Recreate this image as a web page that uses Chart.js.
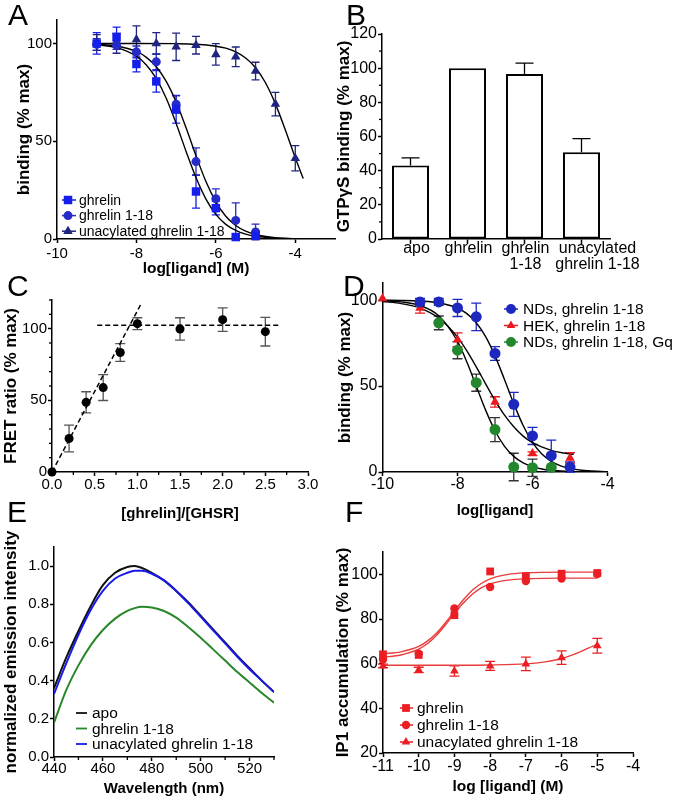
<!DOCTYPE html>
<html>
<head>
<meta charset="utf-8">
<script src="https://cdn.jsdelivr.net/npm/chart.js@4.4.1/dist/chart.umd.min.js"></script>
<style>
html, body { margin: 0; padding: 0; background: #fff; }
#wrap { position: relative; width: 677px; height: 806px; overflow: hidden; }
#wrap canvas { position: absolute; left: 0; top: 0; }
.lbl { position: absolute; font: 30px "Liberation Sans", Arial, sans-serif; line-height: 30px; color: #000; }
</style>
</head>
<body>
<div id="wrap">
  <canvas id="cA" width="677" height="806"></canvas>
  <canvas id="cB" width="677" height="806"></canvas>
  <canvas id="cC" width="677" height="806"></canvas>
  <canvas id="cD" width="677" height="806"></canvas>
  <canvas id="cE" width="677" height="806"></canvas>
  <canvas id="cF" width="677" height="806"></canvas>
  <div class="lbl" style="left:8px;top:0px">A</div>
  <div class="lbl" style="left:346px;top:0px">B</div>
  <div class="lbl" style="left:7px;top:271px">C</div>
  <div class="lbl" style="left:343px;top:271px">D</div>
  <div class="lbl" style="left:7px;top:497px">E</div>
  <div class="lbl" style="left:345px;top:497px">F</div>
</div>
<script>
// ---- A: competition binding ----
var aLogX = [-9, -8.5, -8, -7.5, -7, -6.5, -6, -5.5, -5];
var aGhrelin = [100, 103.4, 89.5, 80.6, 66.3, 24.3, 15.8, 1, 1.7];
var aGhrelinErr = [5.5, 5, 4, 5.5, 7, 8.5, 3.5, 0, 1];
var aG118 = [99.5, 99, 95.7, 90.6, 68.9, 39.6, 20.6, 9.5, 3.6];
var aG118Err = [3, 2, 3, 4, 4.5, 7, 5, 9, 4];
var aUnacX = [-9, -8.5, -8, -7.5, -7, -6.5, -6, -5.5, -5, -4.5, -4];
var aUnac = [100.5, 100, 102, 100, 98.3, 99.1, 94.4, 93.2, 85.9, 69, 41.3];
var aUnacErr = [4, 5, 7, 5.5, 7, 4.5, 5.5, 5, 4.5, 6, 6.5];
var aFitX = [-9, -8.5, -8, -7.75, -7.5, -7.25, -7, -6.75, -6.5, -6.25, -6, -5.75, -5.5, -5.25, -5, -4.5, -4];
var aGhrelinFit = [99.3, 97.9, 93.5, 89.0, 82.0, 72.0, 59.1, 44.8, 31.4, 20.4, 12.6, 7.5, 4.4, 2.5, 1.4, 0.5, 0.1];
var aG118Fit = [99.6, 98.7, 95.9, 92.9, 88.1, 80.6, 70.1, 56.9, 42.6, 29.4, 19.0, 11.6, 6.9, 4.0, 2.3, 0.7, 0.2];
var aUnacFitX = [-9, -8, -7, -6.5, -6, -5.75, -5.5, -5.25, -5, -4.75, -4.5, -4.25, -4, -3.8];
var aUnacFit = [100, 100, 99.9, 99.6, 98.6, 97.6, 95.7, 92.6, 87.6, 79.9, 69.1, 55.7, 41.5, 30.9];
var aTicksX = [-10, -8, -6, -4];
var aTicksY = [0, 50, 100];

// ---- B: GTPgS binding ----
var bLabels = [["apo"], ["ghrelin"], ["ghrelin", "1-18"], ["unacylated", "ghrelin 1-18"]];
var bValues = [43, 100, 96.6, 50.8];
var bErr = [4.5, 0, 6.3, 8];
var bTicksY = [0, 20, 40, 60, 80, 100, 120];
var bMinorY = [10, 30, 50, 70, 90, 110];

// ---- C: FRET titration ----
var cRatio = [0, 0.2, 0.4, 0.6, 0.8, 1.0, 1.5, 2.0, 2.5];
var cFret = [0, 23.4, 48.6, 58.9, 83.4, 103.5, 99.8, 106.3, 97.9];
var cFretErr = [0, 9.3, 7.4, 9, 6.2, 4.1, 7.8, 8.2, 10];
var cRiseX = [0, 1.05];
var cRiseY = [0, 118];
var cPlateauX = [0.53, 2.66];
var cPlateauY = [102.3, 102.3];
var cTicksX = [0, 0.5, 1, 1.5, 2, 2.5, 3];
var cMinorX = [0.25, 0.75, 1.25, 1.75, 2.25, 2.75];
var cTicksY = [0, 50, 100];
var cMinorY = [10, 20, 30, 40, 60, 70, 80, 90, 110, 120];

// ---- D: binding in NDs / HEK ----
var dNdX = [-9, -8.5, -8, -7.5, -7, -6.5, -6, -5.5, -5];
var dNd = [99, 99, 95.5, 90.3, 69, 39.4, 21, 9.5, 2.9];
var dNdErr = [2, 2, 5, 8, 4, 7, 5, 9, 3];
var dHekX = [-10, -9, -8, -7, -6, -5];
var dHek = [101, 95.5, 77, 40.8, 10.7, 8.2];
var dHekErr = [0, 3, 4, 3, 1, 3];
var dGqX = [-8.5, -8, -7.5, -7, -6.5, -6, -5.5];
var dGq = [86.8, 70.9, 52, 24.7, 2.9, 2.5, 2.7];
var dGqErr = [4, 5, 5, 7, 8, 5, 0];
var dFitX = [-10, -9.5, -9, -8.5, -8, -7.75, -7.5, -7.25, -7, -6.75, -6.5, -6.25, -6, -5.75, -5.5, -5.25, -5, -4.5, -4];
var dNdFit = [99.95, 99.85, 99.5, 98.5, 95.4, 92.2, 86.9, 78.8, 67.6, 54.0, 39.8, 27.1, 17.3, 10.5, 6.2, 3.6, 2.0, 0.7, 0.2];
var dGqFit = [99.7, 99.0, 96.9, 90.9, 76.0, 64.0, 50, 36.0, 24.0, 15.1, 9.1, 5.3, 3.1, 1.75, 1.0, 0.56, 0.3, 0.1, 0.03];
var dHekFitX = [-10, -9.5, -9, -8.5, -8, -7.75, -7.5, -7.25, -7, -6.75, -6.5, -6.25, -6, -5.5, -5, -4.9];
var dHekFit = [99.2, 98.0, 95.4, 89.6, 78.5, 70.5, 61.2, 51.3, 41.7, 33.2, 26.3, 20.9, 17.1, 12.6, 10.5, 10.3];
var dTicksX = [-10, -8, -6, -4];
var dTicksY = [0, 50, 100];

// ---- E: emission spectra ----
var eWave = [440, 445, 450, 455, 460, 465, 470, 473, 476, 480, 485, 490, 495, 500, 505, 510, 515, 520, 525, 530];
var eApo = [0.36, 0.52, 0.66, 0.79, 0.9, 0.965, 0.995, 1.0, 0.99, 0.965, 0.925, 0.87, 0.81, 0.74, 0.67, 0.6, 0.53, 0.465, 0.4, 0.34];
var eG118 = [0.18, 0.35, 0.48, 0.585, 0.665, 0.725, 0.765, 0.78, 0.787, 0.783, 0.765, 0.73, 0.68, 0.625, 0.565, 0.505, 0.445, 0.39, 0.335, 0.285];
var eUnac = [0.33, 0.49, 0.64, 0.77, 0.87, 0.935, 0.965, 0.975, 0.975, 0.96, 0.925, 0.87, 0.805, 0.735, 0.665, 0.595, 0.525, 0.46, 0.4, 0.34];
var eTicksX = [440, 460, 480, 500, 520];
var eMinorX = [450, 470, 490, 510, 530];
var eTicksY = [0, 0.2, 0.4, 0.6, 0.8, 1.0];

// ---- F: IP1 accumulation ----
var fX = [-11, -10, -9, -8, -7, -6, -5];
var fGhrelin = [64.2, 63.9, 81.7, 101.3, 99.1, 100.3, 100.6];
var fG118 = [61.9, 64.5, 84.7, 94.3, 97, 98.1, 100.1];
var fUnac = [59, 57.2, 56.7, 59, 59.9, 62.7, 68];
var fUnacErr = [0.8, 1.2, 2.3, 2, 3, 3, 3.3];
var fFitX = [-11, -10.5, -10, -9.75, -9.5, -9.25, -9, -8.75, -8.5, -8.25, -8, -7.5, -7, -6, -5];
var fGhrelinFit = [64.4, 65.3, 67.7, 70.2, 73.7, 78.3, 83.6, 88.6, 92.9, 95.9, 98.0, 100.0, 100.7, 101.0, 101.0];
var fG118Fit = [62.9, 63.9, 66.5, 69.0, 72.7, 77.4, 82.5, 87.2, 91.1, 93.9, 95.7, 97.4, 98.0, 98.3, 98.3];
var fUnacFitX = [-11, -10, -9, -8, -7, -6.5, -6, -5.75, -5.5, -5.25, -5];
var fUnacFit = [59.3, 59.3, 59.3, 59.4, 59.9, 60.7, 62.3, 63.6, 65.2, 67.0, 68.6];
var fTicksX = [-11, -10, -9, -8, -7, -6, -5, -4];
var fTicksY = [20, 40, 60, 80, 100];

var W = 677, H = 806;
var FONT = '"Liberation Sans", Arial, Helvetica, sans-serif';
Chart.defaults.font.family = FONT;
Chart.defaults.color = "#000";

function pts(xs, ys) {
    return xs.map(function (x, i) { return { x: x, y: ys[i] }; });
}

function axis(min, max, ticks, fmt, title, tickSize, titleSize, pad) {
    return {
        type: "linear", min: min, max: max,
        afterBuildTicks: function (s) { s.ticks = ticks.map(function (v) { return { value: v }; }); },
        ticks: { autoSkip: false, maxRotation: 0, minRotation: 0, padding: pad, color: "#000",
                 font: { size: tickSize, lineHeight: 1.05 }, callback: function (v) { return fmt(v); } },
        grid: { drawOnChartArea: false, drawTicks: true, tickLength: 4, tickColor: "#000", tickWidth: 1.5 },
        border: { display: true, color: "#000", width: 1.5 },
        title: { display: !!title, text: title || "", color: "#000",
                 font: { size: titleSize, weight: "bold" }, padding: { top: 0, bottom: 0 } }
    };
}

// place the plot area at fixed page coordinates
function frame(area, yTitleX, yTitleSize, xTitleY, xTitleSize, xs, ys) {
    var padL = yTitleX - yTitleSize * 0.6;
    var yW = area.l - padL;
    var xHt = xTitleY + xTitleSize * 0.6 - area.b;
    xs.afterFit = function (s) { s.height = xHt; };
    ys.afterFit = function (s) { s.width = yW; };
    return {
        responsive: false, animation: false, events: [],
        layout: { padding: { left: padL, top: area.t, right: W - area.r, bottom: H - area.b - xHt } },
        plugins: { legend: { display: false }, tooltip: { enabled: false } },
        scales: { x: xs, y: ys }
    };
}

function drawMarker(ctx, style, x, y, r) {
    ctx.beginPath();
    if (style === "rect") {
        var s = r * Math.SQRT1_2;
        ctx.rect(x - s, y - s, 2 * s, 2 * s);
    } else if (style === "triangle") {
        var a = 0;
        for (var k = 0; k < 3; k++) {
            var px = x + Math.sin(a) * r, py = y - Math.cos(a) * r;
            if (k === 0) ctx.moveTo(px, py); else ctx.lineTo(px, py);
            a += 2 * Math.PI / 3;
        }
        ctx.closePath();
    } else {
        ctx.arc(x, y, r, 0, 2 * Math.PI);
    }
    ctx.fill();
}

var errorBars = {
    id: "errorBars",
    beforeDatasetsDraw: function (chart) {
        var ctx = chart.ctx, ys = chart.scales.y;
        chart.data.datasets.forEach(function (ds, i) {
            if (!ds.errors) return;
            var meta = chart.getDatasetMeta(i);
            ctx.save();
            ctx.strokeStyle = ds.errorColor;
            ctx.lineWidth = 1.3;
            meta.data.forEach(function (el, j) {
                var e = ds.errors[j];
                if (!e) return;
                var raw = ds.data[j];
                var v = typeof raw === "number" ? raw : raw.y;
                var top = ys.getPixelForValue(v + e);
                var bot = ds.upOnly ? el.y : ys.getPixelForValue(v - e);
                var c = ds.capHalf;
                ctx.beginPath();
                ctx.moveTo(el.x, top); ctx.lineTo(el.x, bot);
                ctx.moveTo(el.x - c, top); ctx.lineTo(el.x + c, top);
                if (!ds.upOnly) { ctx.moveTo(el.x - c, bot); ctx.lineTo(el.x + c, bot); }
                ctx.stroke();
            });
            ctx.restore();
        });
    }
};

function minorTicks(xv, yv) {
    return {
        id: "minorTicks",
        afterDraw: function (chart) {
            var ctx = chart.ctx, a = chart.chartArea;
            ctx.save();
            ctx.strokeStyle = "#000";
            ctx.lineWidth = 1.3;
            xv.forEach(function (v) {
                var px = chart.scales.x.getPixelForValue(v);
                ctx.beginPath(); ctx.moveTo(px, a.bottom); ctx.lineTo(px, a.bottom + 3); ctx.stroke();
            });
            yv.forEach(function (v) {
                var py = chart.scales.y.getPixelForValue(v);
                ctx.beginPath(); ctx.moveTo(a.left, py); ctx.lineTo(a.left - 3, py); ctx.stroke();
            });
            ctx.restore();
        }
    };
}

// small legend drawn inside the plot
function key(def) {
    return {
        id: "key",
        afterDraw: function (chart) {
            var ctx = chart.ctx;
            ctx.save();
            ctx.font = def.size + "px " + FONT;
            ctx.textBaseline = "middle";
            def.items.forEach(function (it, i) {
                var y = def.y + i * def.dy;
                ctx.strokeStyle = it.color;
                ctx.lineWidth = def.lw;
                ctx.beginPath(); ctx.moveTo(def.x0, y); ctx.lineTo(def.x1, y); ctx.stroke();
                if (it.style) { ctx.fillStyle = it.color; drawMarker(ctx, it.style, def.mx, y, it.r); }
                ctx.fillStyle = "#000";
                ctx.fillText(it.text, def.tx, y + 1);
            });
            ctx.restore();
        }
    };
}

// category labels of B, nudged sideways like the original layout
function barLabels(labels, shift, y0, lineH, size) {
    return {
        id: "barLabels",
        afterDraw: function (chart) {
            var ctx = chart.ctx, sx = chart.scales.x;
            ctx.save();
            ctx.font = size + "px " + FONT;
            ctx.textAlign = "center";
            ctx.textBaseline = "middle";
            ctx.fillStyle = "#000";
            labels.forEach(function (lines, i) {
                var x = sx.getPixelForValue(i) + shift[i];
                lines.forEach(function (t, k) { ctx.fillText(t, x, y0 + k * lineH); });
            });
            ctx.restore();
        }
    };
}

function points(xs, ys, errs, color, style, r, errColor, cap) {
    return { data: pts(xs, ys), pointStyle: style, pointRadius: r, borderWidth: 0,
             backgroundColor: color, borderColor: color, errors: errs,
             errorColor: errColor || color, capHalf: cap || 4, clip: false };
}
function curve(xs, ys, color, width) {
    return { data: pts(xs, ys), showLine: true, pointRadius: 0, borderColor: color,
             borderWidth: width || 1.4, cubicInterpolationMode: "monotone", fill: false };
}
function fmtInt(v) { return String(v); }
function fmt1(v) { return v.toFixed(1); }

// ----- Panel A -----
var A_SQ = "rgb(22,30,235)", A_CI = "rgb(38,42,200)", A_TR = "rgb(30,36,128)";
new Chart(document.getElementById("cA"), {
    type: "scatter",
    data: { datasets: [
        points(aLogX, aGhrelin, aGhrelinErr, A_SQ, "rect", 6),
        points(aLogX, aG118, aG118Err, A_CI, "circle", 4.5),
        points(aUnacX, aUnac, aUnacErr, A_TR, "triangle", 5.5),
        curve(aFitX, aGhrelinFit, "#000"),
        curve(aFitX, aG118Fit, "#000"),
        curve(aUnacFitX, aUnacFit, "#000")
    ] },
    options: frame({ l: 57, t: 20, r: 335, b: 239 }, 24, 17, 269, 15.5,
        axis(-10, -3, aTicksX, fmtInt, "log[ligand] (M)", 15, 15.5, 3),
        axis(0, 112, aTicksY, fmtInt, "binding (% max)", 15, 17, 1)),
    plugins: [errorBars, key({ x0: 62, x1: 76, mx: 68, tx: 79, y: 200, dy: 15.6, size: 14, lw: 1.5,
        items: [
            { text: "ghrelin", color: A_SQ, style: "rect", r: 6 },
            { text: "ghrelin 1-18", color: A_CI, style: "circle", r: 4.5 },
            { text: "unacylated ghrelin 1-18", color: A_TR, style: "triangle", r: 5.5 }
        ] })]
});

// ----- Panel B -----
var bX = {
    type: "category", offset: true,
    grid: { offset: false, drawOnChartArea: false, drawTicks: true, tickLength: 5, tickColor: "#000", tickWidth: 1.5 },
    border: { display: true, color: "#000", width: 1.5 },
    ticks: { display: false },
    title: { display: false }
};
new Chart(document.getElementById("cB"), {
    type: "bar",
    data: { labels: bLabels, datasets: [{
        data: bValues, backgroundColor: "#fff", borderColor: "#000", borderWidth: 2,
        borderSkipped: false, barPercentage: 0.65, categoryPercentage: 1,
        errors: bErr, upOnly: true, errorColor: "#000", capHalf: 9
    }] },
    options: frame({ l: 382, t: 34, r: 610, b: 239 }, 344, 17, 275, 15, bX,
        axis(0, 120, bTicksY, fmtInt, "GTP\u03b3S binding (% max)", 16, 17, 1)),
    plugins: [errorBars, minorTicks([], bMinorY), barLabels(bLabels, [6, 1, 1, 16], 249, 16, 16)]
});

// ----- Panel C -----
var dashed1 = curve(cRiseX, cRiseY, "#000", 1.5); dashed1.borderDash = [5, 3];
var dashed2 = curve(cPlateauX, cPlateauY, "#000", 1.5); dashed2.borderDash = [5, 3];
new Chart(document.getElementById("cC"), {
    type: "scatter",
    data: { datasets: [
        points(cRatio, cFret, cFretErr, "#000", "circle", 4.5, "#555", 5),
        dashed1, dashed2
    ] },
    options: frame({ l: 52, t: 300, r: 308, b: 472 }, 11, 17, 514, 15,
        axis(0, 3, cTicksX, fmt1, "[ghrelin]/[GHSR]", 15, 15, 1),
        axis(0, 120, cTicksY, fmtInt, "FRET ratio (% max)", 15, 17, 1)),
    plugins: [errorBars, minorTicks(cMinorX, cMinorY)]
});

// ----- Panel D -----
var D_BL = "rgb(28,40,190)", D_RD = "rgb(235,25,30)", D_GR = "rgb(35,135,45)";
new Chart(document.getElementById("cD"), {
    type: "scatter",
    data: { datasets: [
        points(dNdX, dNd, dNdErr, D_BL, "circle", 5.5, D_BL, 5),
        points(dHekX, dHek, dHekErr, D_RD, "triangle", 5.5, D_RD, 5),
        points(dGqX, dGq, dGqErr, D_GR, "circle", 5.5, "#333", 5),
        curve(dFitX, dNdFit, "#000"),
        curve(dHekFitX, dHekFit, "#000"),
        curve(dFitX, dGqFit, "#000")
    ] },
    options: frame({ l: 382.5, t: 283, r: 607.5, b: 472 }, 345, 17, 511, 15,
        axis(-10, -4, dTicksX, fmtInt, "log[ligand]", 16, 15, 0),
        axis(0, 110, dTicksY, fmtInt, "binding (% max)", 16, 17, 1)),
    plugins: [errorBars, key({ x0: 504, x1: 518, mx: 511, tx: 523, y: 309, dy: 16.5, size: 15.5, lw: 1.5,
        items: [
            { text: "NDs, ghrelin 1-18", color: D_BL, style: "circle", r: 5 },
            { text: "HEK, ghrelin 1-18", color: D_RD, style: "triangle", r: 5 },
            { text: "NDs, ghrelin 1-18, Gq", color: D_GR, style: "circle", r: 5 }
        ] })]
});

// ----- Panel E -----
var E_BK = "#111", E_GR = "rgb(40,135,40)", E_BL = "rgb(25,25,235)";
var eBlue = curve(eWave, eUnac, E_BL, 2); eBlue.order = 0;
var eApoLine = curve(eWave, eApo, E_BK, 2); eApoLine.order = 1;
var eGreen = curve(eWave, eG118, E_GR, 2); eGreen.order = 2;
new Chart(document.getElementById("cE"), {
    type: "scatter",
    data: { datasets: [eApoLine, eGreen, eBlue] },
    options: frame({ l: 54, t: 547, r: 274, b: 757 }, 11, 17, 789, 15,
        axis(440, 530, eTicksX, fmtInt, "Wavelength (nm)", 15, 15, 0),
        axis(0, 1.1, eTicksY, fmt1, "normalized emission intensity", 15, 17, 1)),
    plugins: [minorTicks(eMinorX, []), key({ x0: 76, x1: 87, mx: 0, tx: 92, y: 713, dy: 15.5, size: 15.5, lw: 1.8,
        items: [
            { text: "apo", color: E_BK },
            { text: "ghrelin 1-18", color: E_GR },
            { text: "unacylated ghrelin 1-18", color: E_BL }
        ] })]
});

// ----- Panel F -----
var F_RD = "rgb(235,30,35)", F_LN = "rgb(235,60,60)";
new Chart(document.getElementById("cF"), {
    type: "scatter",
    data: { datasets: [
        points(fX, fGhrelin, null, F_RD, "rect", 5.5),
        points(fX, fG118, null, F_RD, "circle", 4.2),
        points(fX, fUnac, fUnacErr, F_RD, "triangle", 5, F_RD, 5),
        curve(fFitX, fGhrelinFit, F_LN),
        curve(fFitX, fG118Fit, F_LN),
        curve(fUnacFitX, fUnacFit, F_LN)
    ] },
    options: frame({ l: 383, t: 552, r: 633, b: 753 }, 343, 17, 787, 15.5,
        axis(-11, -4, fTicksX, fmtInt, "log [ligand] (M)", 16, 15.5, 1),
        axis(20, 110, fTicksY, fmtInt, "IP1 accumulation (% max)", 16, 17, 1)),
    plugins: [errorBars, key({ x0: 400, x1: 413, mx: 406, tx: 417, y: 708, dy: 17, size: 15.5, lw: 1.5,
        items: [
            { text: "ghrelin", color: F_RD, style: "rect", r: 5.5 },
            { text: "ghrelin 1-18", color: F_RD, style: "circle", r: 4.2 },
            { text: "unacylated ghrelin 1-18", color: F_RD, style: "triangle", r: 5 }
        ] })]
});
</script>
</body>
</html>
